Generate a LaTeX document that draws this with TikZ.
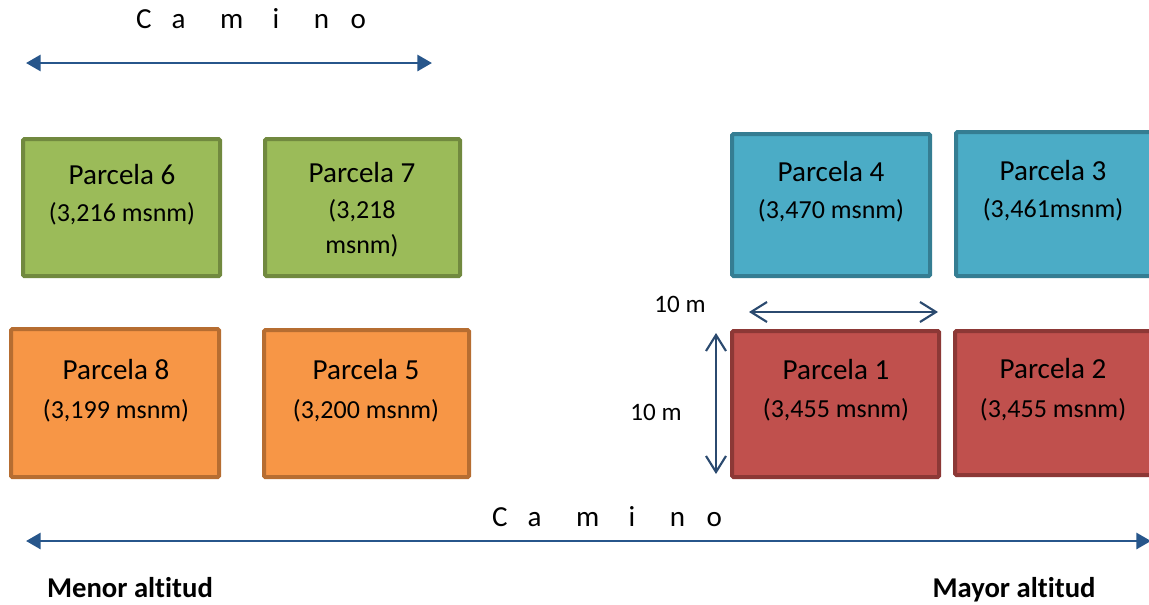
\documentclass[tikz,border=0pt]{standalone}
\usepackage{fontspec}
\setmainfont{Carlito}[Ligatures={NoCommon}]
\usetikzlibrary{arrows.meta}
\definecolor{grnF}{HTML}{9BBB59}\definecolor{grnD}{HTML}{71893F}
\definecolor{orgF}{HTML}{F79646}\definecolor{orgD}{HTML}{B66D31}
\definecolor{bluF}{HTML}{4BACC6}\definecolor{bluD}{HTML}{357D92}
\definecolor{redF}{HTML}{C0504D}\definecolor{redD}{HTML}{8C3836}
\definecolor{roadblue}{HTML}{27568B}
\definecolor{dimblue}{HTML}{2B4A6F}
\tikzset{
  plot/.style={draw, line width=3pt, rounded corners=1pt},
  big/.style={anchor=base, inner sep=0pt, font=\fontsize{21.8}{26}\selectfont},
  small/.style={anchor=base, inner sep=0pt, font=\fontsize{19.5}{24}\selectfont},
  roadline/.style={roadblue, line width=2.2pt, {Triangle[length=11pt,width=12pt]}-{Triangle[length=11pt,width=12pt]}},
  dimline/.style={dimblue, line width=1.6pt, {Straight Barb[length=12pt,width=15pt]}-{Straight Barb[length=12pt,width=15pt]}},
  dimlab/.style={anchor=base, inner sep=0pt, font=\fontsize{18.8}{22}\selectfont},
  side/.style={anchor=base, inner sep=0pt, font=\bfseries\fontsize{21.5}{26}\selectfont},
}
\newcommand{\spacedcamino}{C\hspace{15pt}a\hspace{26pt}m\hspace{22pt}i\hspace{26pt}n\hspace{16pt}o}
\begin{document}
\begin{tikzpicture}[x=0.75pt,y=-0.75pt]
\useasboundingbox (0,0) rectangle (1149,604);
\begin{scope}
\clip (0,0) rectangle (1149,604);
% plots, left group
\draw[plot, fill=grnF, draw=grnD] (23,139) rectangle (220,276);
\draw[plot, fill=grnF, draw=grnD] (265,139) rectangle (460,276);
\draw[plot, fill=orgF, draw=orgD] (11,329) rectangle (219,477);
\draw[plot, fill=orgF, draw=orgD] (264,330) rectangle (469,477);
% plots, right group
\draw[plot, fill=bluF, draw=bluD] (732,134) rectangle (930,276);
\draw[plot, fill=bluF, draw=bluD] (956,132) rectangle (1160,276);
\draw[plot, fill=redF, draw=redD] (732,331) rectangle (939,477);
\draw[plot, fill=redF, draw=redD] (955,331) rectangle (1160,475);
\end{scope}
% plot labels
\node[big]   (p6a) at (122,184) {Parcela 6};
\node[small] (p6b) at (122,221) {(3,216 msnm)};
\node[big]   (p7a) at (362,182) {Parcela 7};
\node[small] (p7b) at (362,218) {(3,218};
\node[small] (p7c) at (362,253) {msnm)};
\node[big]   (p4a) at (831,181) {Parcela 4};
\node[small] (p4b) at (831,218) {(3,470 msnm)};
\node[big]   (p3a) at (1053,180) {Parcela 3};
\node[small] (p3b) at (1053,217) {(3,461msnm)};
\node[big]   (p8a) at (116,379) {Parcela 8};
\node[small] (p8b) at (116,418) {(3,199 msnm)};
\node[big]   (p5a) at (366,379) {Parcela 5};
\node[small] (p5b) at (366,418) {(3,200 msnm)};
\node[big]   (p1a) at (836,379) {Parcela 1};
\node[small] (p1b) at (836,417) {(3,455 msnm)};
\node[big]   (p2a) at (1053,378) {Parcela 2};
\node[small] (p2b) at (1053,417) {(3,455 msnm)};
% roads
\node[big] (cam1) at (251,28) {\spacedcamino};
\coordinate (r1w) at (26,63); \coordinate (r1e) at (432,63);
\draw[roadline] (r1w) -- (r1e);
\node[big] (cam2) at (607,526) {\spacedcamino};
\coordinate (r2w) at (26,541); \coordinate (r2e) at (1151,541);
\draw[roadline] (r2w) -- (r2e);
% dimensions
\coordinate (hw) at (749,312); \coordinate (he) at (938,312);
\draw[dimline] (hw) -- (he);
\node[dimlab] (hl) at (680,312) {10 m};
\coordinate (vt) at (716,333); \coordinate (vb) at (716,474);
\draw[dimline] (vt) -- (vb);
\node[dimlab] (vl) at (656,420) {10 m};
% altitude notes
\node[side] (lo) at (130,597) {Menor altitud};
\node[side] (hi) at (1014,597) {Mayor altitud};
\end{tikzpicture}
\end{document}
